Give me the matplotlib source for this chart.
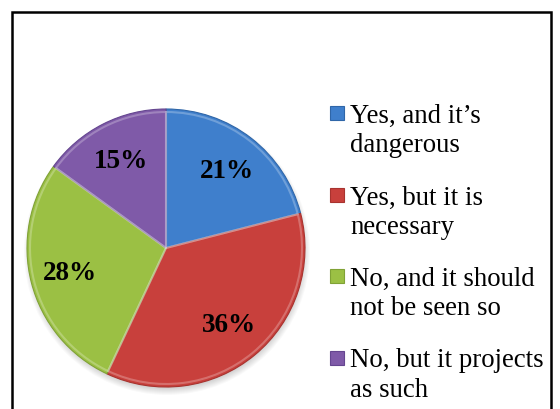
import matplotlib
matplotlib.use("Agg")
import matplotlib.pyplot as plt
from matplotlib.patches import Rectangle, Circle
import numpy as np

categories = ["Yes, and it\u2019s\ndangerous", "Yes, but it is\nnecessary",
              "No, and it should\nnot be seen so", "No, but it projects\nas such"]
shares = [21, 36, 28, 15]
colors = ["#3F7FCC", "#C8403C", "#9BC044", "#7F5AA8"]
edge_colors = ["#2F66A8", "#A8332F", "#80A236", "#654690"]

plt.rcParams["font.family"] = ["Liberation Serif", "DejaVu Serif"]

fig = plt.figure(figsize=(5.6, 4.1), dpi=100)
ax = fig.add_axes([0, 0, 1, 1])

cx, cy, r = 166, 161, 139

# soft drop shadow under the pie
for k in range(8):
    ax.add_patch(Circle((cx + 1, cy - 4), r + 4 - k, color="black",
                        alpha=0.025, lw=0, zorder=1))

wedges, _, pct = ax.pie(shares, colors=colors, startangle=90, counterclock=False,
                        center=(cx, cy), radius=r, autopct="%1.0f%%",
                        pctdistance=0.71, frame=True,
                        wedgeprops=dict(linewidth=0.8),
                        textprops=dict(fontsize=19.5, fontweight="bold", color="black"))
for w, ec in zip(wedges, edge_colors):
    w.set_edgecolor(ec)
    w.set_zorder(2)
for t in pct:
    t.set_zorder(5)

# bevel: lighter inner highlight along each wedge's edge
inner, _ = ax.pie(shares, colors=colors, startangle=90, counterclock=False,
                  center=(cx, cy), radius=r - 3, frame=True)
for w in inner:
    w.set_facecolor("none")
    w.set_edgecolor((1, 1, 1, 0.25))
    w.set_linewidth(1.5)
    w.set_zorder(3)

ax.set_xlim(0, 560)
ax.set_ylim(0, 410)
ax.set_aspect("equal")
ax.axis("off")

# chart frame
ax.add_patch(Rectangle((12, -10), 539, 407, fill=False, edgecolor="black",
                       linewidth=1.8, zorder=6))

# legend: square key beside the first line of each two-line entry
first_baseline = 287
entry_step = 81.5
line_step = 29.5
for i, (label, c, e) in enumerate(zip(categories, colors, edge_colors)):
    base = first_baseline - i * entry_step
    ax.add_patch(Rectangle((330, base + 2), 14, 14, facecolor=c, edgecolor=e,
                           linewidth=0.8, zorder=4))
    for j, line in enumerate(label.split("\n")):
        ax.text(350, base - j * line_step, line, fontsize=19.3, ha="left",
                va="baseline", zorder=4)

fig.savefig("out.png", dpi=100)
